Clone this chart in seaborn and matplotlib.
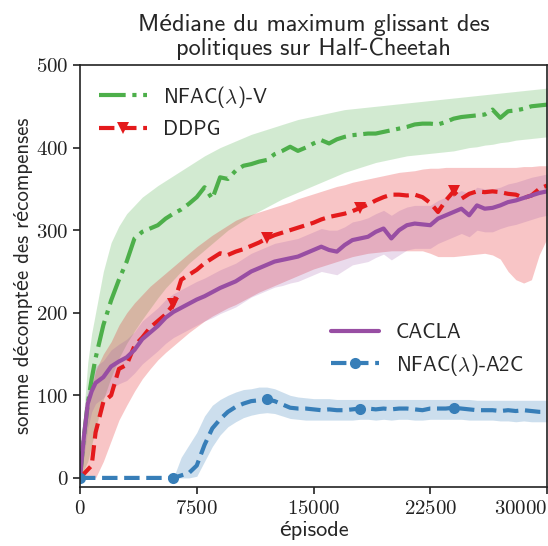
import numpy as np
import pandas as pd
import matplotlib
matplotlib.use('Agg')
import matplotlib.pyplot as plt
from matplotlib.ticker import FuncFormatter
from matplotlib.lines import Line2D
import seaborn as sns

# episodes
episodes = [0, 250, 500, 750, 1000] + list(range(1500, 30001, 500))

# NFAC(lambda)-V
v_mean = [0, 50, 90, 120, 145, 185, 215, 240, 262, 290, 298, 302, 306, 314, 320, 325, 332, 340,
          352, 338, 364, 362, 372, 378, 380, 383, 385, 392, 396, 401, 396, 400, 405, 409, 405, 410,
          413, 415, 416, 417, 417, 419, 421, 423, 425, 428, 429, 429, 428, 431, 435, 437, 438, 439,
          440, 446, 436, 444, 445, 447, 450, 451, 452]
v_high = [0, 80, 140, 175, 200, 250, 285, 305, 320, 330, 340, 347, 354, 360, 366, 372, 378, 384,
          390, 395, 400, 404, 408, 412, 416, 419, 422, 425, 428, 431, 434, 436, 438, 440, 442, 444,
          446, 447, 448, 449, 450, 451, 452, 453, 454, 455, 456, 457, 458, 459, 460, 461, 462, 463,
          464, 465, 466, 467, 468, 469, 470, 471, 472]
v_low = [0, 10, 20, 40, 60, 95, 122, 145, 163, 178, 192, 205, 218, 230, 240, 250, 260, 268,
         276, 284, 292, 300, 306, 312, 318, 323, 328, 333, 338, 342, 346, 350, 354, 358, 362, 366,
         370, 373, 376, 379, 382, 384, 386, 388, 390, 391, 392, 393, 394, 395, 396, 398, 400, 401,
         403, 404, 406, 407, 409, 410, 411, 412, 413]

# DDPG
d_mean = [0, 5, 10, 15, 55, 92, 100, 132, 137, 160, 170, 182, 190, 198, 210, 240, 246, 252,
          260, 266, 272, 270, 274, 277, 281, 285, 290, 294, 297, 300, 303, 306, 309, 313, 316, 318,
          320, 323, 327, 331, 336, 340, 343, 343, 342, 343, 340, 333, 322, 336, 347, 338, 344, 347,
          346, 347, 346, 344, 343, 339, 342, 350, 354]
d_high = [0, 40, 80, 110, 130, 150, 165, 185, 200, 212, 222, 232, 240, 248, 256, 264, 272, 280,
          287, 294, 300, 306, 312, 316, 319, 322, 325, 328, 331, 334, 338, 341, 344, 347, 350, 353,
          355, 358, 360, 362, 364, 366, 368, 370, 371, 372, 374, 375, 375, 376, 376, 376, 376, 376,
          376, 376, 376, 376, 376, 377, 377, 378, 378]
d_low = [0, 0, 0, 0, 0, 20, 45, 70, 88, 105, 120, 132, 143, 152, 160, 168, 176, 183,
         190, 196, 201, 206, 210, 215, 220, 225, 229, 233, 237, 241, 245, 249, 253, 256, 259, 262,
         265, 268, 270, 272, 273, 274, 275, 275, 275, 275, 275, 272, 268, 268, 268, 269, 270, 271,
         272, 270, 265, 250, 240, 236, 240, 270, 290]

# CACLA
c_mean = [0, 50, 90, 105, 115, 122, 135, 141, 146, 155, 168, 176, 184, 194, 201, 206, 211, 216,
          220, 225, 230, 234, 238, 244, 250, 254, 258, 262, 264, 266, 268, 272, 276, 280, 276, 274,
          282, 288, 290, 292, 298, 302, 290, 300, 306, 308, 307, 306, 314, 318, 322, 326, 318, 330,
          326, 327, 330, 334, 336, 339, 342, 345, 347]
c_high = [0, 70, 110, 125, 135, 142, 155, 162, 168, 177, 190, 198, 206, 216, 223, 228, 233, 238,
          242, 247, 252, 256, 260, 266, 272, 276, 280, 284, 286, 288, 290, 294, 298, 302, 300, 300,
          304, 310, 312, 315, 320, 324, 318, 324, 328, 330, 330, 330, 336, 340, 344, 348, 344, 352,
          350, 350, 352, 356, 358, 361, 364, 366, 368]
c_low = [0, 25, 60, 80, 90, 97, 108, 114, 118, 127, 138, 146, 154, 163, 170, 175, 180, 185,
         190, 194, 199, 203, 207, 213, 219, 223, 227, 231, 233, 236, 238, 242, 246, 250, 248, 246,
         252, 258, 260, 262, 267, 271, 264, 270, 276, 278, 278, 278, 284, 288, 292, 296, 292, 300,
         298, 298, 302, 305, 307, 310, 313, 316, 318]

# NFAC(lambda)-A2C
a_mean = [0, 0, 0, 0, 0, 0, 0, 0, 0, 0, 0, 0, 0, 0, 0, 3, 6, 15,
          40, 60, 71, 80, 86, 90, 93, 94, 95, 93, 89, 85, 84, 84, 83, 82, 83, 82,
          82, 83, 84, 84, 83, 84, 83, 84, 84, 83, 82, 84, 84, 84, 85, 84, 83, 82,
          82, 82, 81, 82, 81, 82, 81, 80, 80]
a_high = [0, 0, 0, 0, 0, 0, 0, 0, 0, 0, 0, 0, 0, 0, 0, 25, 40, 55,
          75, 88, 95, 100, 104, 107, 108, 110, 110, 108, 104, 100, 98, 97, 96, 96, 96, 95,
          95, 95, 95, 95, 95, 95, 95, 95, 95, 95, 95, 95, 95, 95, 95, 95, 95, 94,
          94, 94, 94, 94, 94, 94, 94, 94, 94]
a_low = [0, 0, 0, 0, 0, 0, 0, 0, 0, 0, 0, 0, 0, 0, 0, 0, 0, 2,
         20, 38, 52, 62, 68, 73, 76, 78, 79, 78, 75, 72, 71, 70, 70, 70, 70, 70,
         70, 70, 71, 71, 70, 71, 70, 71, 71, 70, 70, 71, 71, 71, 71, 71, 70, 70,
         70, 70, 69, 69, 68, 69, 68, 68, 68]

x_ticks = [0, 7500, 15000, 22500, 30000]
y_ticks = [0, 100, 200, 300, 400, 500]

GREEN = '#4daf4a'
RED = '#e41a1c'
PURPLE = '#984ea3'
BLUE = '#377eb8'

sns.set_style('ticks')
# cmss10 has no accented letters: Lato fills in for them
plt.rcParams['font.family'] = ['cmss10', 'Lato', 'DejaVu Sans']
plt.rcParams['mathtext.fontset'] = 'cm'
plt.rcParams['axes.unicode_minus'] = False
plt.rcParams['axes.formatter.use_mathtext'] = True

df = pd.DataFrame({'episode': episodes,
                   'v': v_mean, 'd': d_mean, 'c': c_mean, 'a': a_mean})
# markers every 6000 episodes, none on the last point
marks = [i for i, e in enumerate(episodes) if e % 6000 == 0 and e < 30000]

fig = plt.figure(figsize=(5.48, 5.46), dpi=100)
ax = fig.add_axes([80 / 548, (546 - 487) / 546, 467 / 548, 422 / 546])

ax.fill_between(episodes, v_low, v_high, color=GREEN, alpha=0.25, lw=0)
ax.fill_between(episodes, d_low, d_high, color=RED, alpha=0.25, lw=0)
ax.fill_between(episodes, c_low, c_high, color=PURPLE, alpha=0.2, lw=0)
ax.fill_between(episodes, a_low, a_high, color=BLUE, alpha=0.25, lw=0)

sns.lineplot(data=df, x='episode', y='v', ax=ax, color=GREEN, lw=3, linestyle='-.')
sns.lineplot(data=df, x='episode', y='d', ax=ax, color=RED, lw=3, linestyle='--',
             marker='v', markersize=9, markevery=marks, markeredgewidth=0)
sns.lineplot(data=df, x='episode', y='c', ax=ax, color=PURPLE, lw=3, linestyle='-')
sns.lineplot(data=df, x='episode', y='a', ax=ax, color=BLUE, lw=3, linestyle='--',
             marker='o', markersize=8, markevery=marks, markeredgewidth=0)

ax.set_xlim(0, 30000)
ax.set_ylim(-11, 500)
ax.set_xticks(x_ticks)
ax.set_yticks(y_ticks)
fmt = FuncFormatter(lambda v, p: '$%d$' % v)
ax.xaxis.set_major_formatter(fmt)
ax.yaxis.set_major_formatter(fmt)
ax.tick_params(labelsize=15, length=5, width=1.2, colors='#222222')
for s in ax.spines.values():
    s.set_linewidth(1.2)
    s.set_color('#222222')
fig.canvas.draw()
ax.get_xticklabels()[-1].set_horizontalalignment('right')

ax.set_xlabel('épisode', fontsize=16, labelpad=2)
ax.set_ylabel('somme décomptée des récompenses', fontsize=15, labelpad=2)
ax.set_title('Médiane du maximum glissant des\npolitiques sur Half-Cheetah', fontsize=17.5,
             linespacing=1.1, pad=7)

h_v = Line2D([], [], color=GREEN, lw=3, linestyle='-.')
h_d = Line2D([], [], color=RED, lw=3, linestyle='--', marker='v', markersize=9, markeredgewidth=0)
h_c = Line2D([], [], color=PURPLE, lw=3, linestyle='-')
h_a = Line2D([], [], color=BLUE, lw=3, linestyle='--', marker='o', markersize=8, markeredgewidth=0)

leg1 = ax.legend([h_v, h_d], [r'NFAC($\lambda$)-V', 'DDPG'], loc='upper left', frameon=False,
                 fontsize=15, handlelength=2.3, handletextpad=0.8, labelspacing=0.5)
ax.add_artist(leg1)
ax.legend([h_c, h_a], ['CACLA', r'NFAC($\lambda$)-A2C'], loc='lower right', frameon=False,
          fontsize=15, handlelength=2.3, handletextpad=0.8, labelspacing=0.45,
          bbox_to_anchor=(0.99, 0.215))

fig.savefig('out.png', dpi=100)
